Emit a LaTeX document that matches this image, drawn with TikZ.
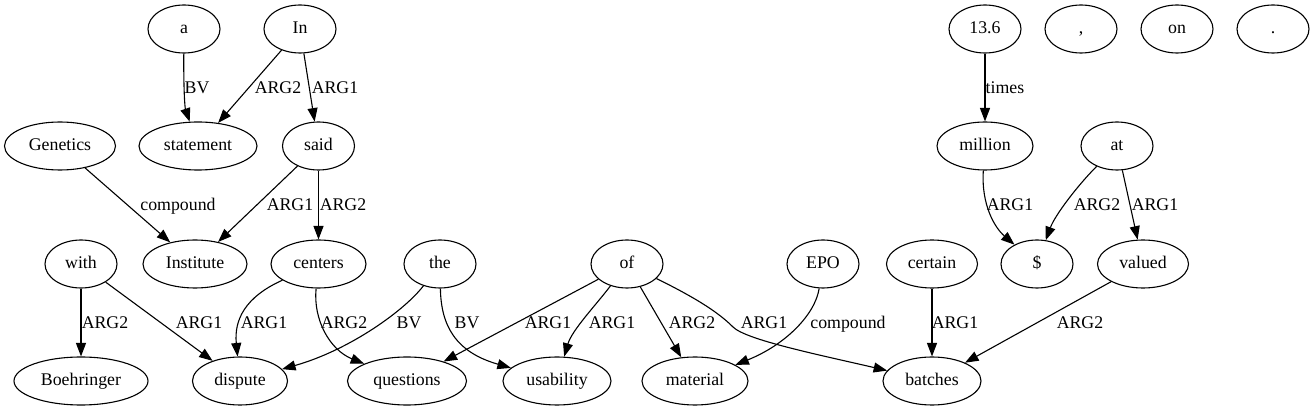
\documentclass[tikz,border=0pt]{standalone}
\usepackage{fontspec}
\setmainfont{Liberation Serif}
\usetikzlibrary{arrows.meta, shapes.geometric}

\begin{document}
\begin{tikzpicture}[
    x=1pt, y=-1pt,
    word/.style={ellipse, draw=black, line width=1.1pt, inner sep=0pt,
                 minimum width=72pt, minimum height=48pt,
                 text height=13pt, text depth=3pt,
                 font=\fontsize{17.8pt}{20pt}\selectfont},
    rel/.style={anchor=base, inner sep=0pt,
                 font=\fontsize{17.8pt}{20pt}\selectfont},
    arrow/.style={-{Triangle[length=13.5pt, width=10pt]}, line width=1.1pt}
]
\useasboundingbox (0,0) rectangle (1315,411);

% top row
\node[word] (a) at (184,29) {a};
\node[word] (In) at (300,29) {In};
\node[word] (num) at (985,29) {13.6};
\node[word] (comma) at (1081,29) {,};
\node[word] (on) at (1177,29) {on};
\node[word] (stop) at (1273,29) {.};

% second row
\node[word, minimum width=111pt] (Genetics) at (60,146) {Genetics};
\node[word, minimum width=118pt] (statement) at (198,146) {statement};
\node[word] (said) at (318.5,146) {said};
\node[word, minimum width=96pt] (million) at (985,146) {million};
\node[word] (at) at (1117,146) {at};

% third row
\node[word] (with) at (81,264) {with};
\node[word, minimum width=104pt] (Institute) at (195,264) {Institute};
\node[word, minimum width=95pt] (centers) at (318.5,264) {centers};
\node[word] (the) at (440,264) {the};
\node[word] (of) at (627,264) {of};
\node[word] (EPO) at (823,264) {EPO};
\node[word, minimum width=91pt] (certain) at (932,264) {certain};
\node[word] (dollar) at (1037,264) {\$};
\node[word, minimum width=91pt] (valued) at (1143,264) {valued};

% bottom row
\node[word, minimum width=134pt] (Boehringer) at (81,381) {Boehringer};
\node[word, minimum width=95pt] (dispute) at (240,381) {dispute};
\node[word, minimum width=119pt] (questions) at (407,381) {questions};
\node[word, minimum width=108pt] (usability) at (557,381) {usability};
\node[word, minimum width=106pt] (material) at (695,381) {material};
\node[word, minimum width=98pt] (batches) at (932,381) {batches};

\draw[arrow] (a) .. controls (183.5,92) and (185,108) .. (statement) node[rel] at (197,94) {BV};
\draw[arrow] (In) -- (statement) node[rel] at (278,94) {ARG2};
\draw[arrow] (In) -- (said) node[rel] at (335,94) {ARG1};
\draw[arrow] (Genetics) -- (Institute) node[rel] at (178,211) {compound};
\draw[arrow] (said) -- (Institute) node[rel] at (290,211) {ARG1};
\draw[arrow] (said) -- (centers) node[rel] at (343,211) {ARG2};
\draw[arrow] (with) -- (Boehringer) node[rel] at (105,329) {ARG2};
\draw[arrow] (with) -- (dispute) node[rel] at (199,329) {ARG1};
\draw[arrow] (centers) .. controls (245,297) and (234,320) .. (dispute) node[rel] at (264,329) {ARG1};
\draw[arrow] (centers) .. controls (313,320) and (330,350) .. (questions) node[rel] at (344,329) {ARG2};
\draw[arrow] (the) .. controls (405,310) and (350,350) .. (dispute) node[rel] at (409,329) {BV};
\draw[arrow] (the) .. controls (441,325) and (455,352) .. (usability) node[rel] at (467,329) {BV};
\draw[arrow] (of) -- (questions) node[rel] at (548,329) {ARG1};
\draw[arrow] (of) .. controls (596,305) and (572,330) .. (usability) node[rel] at (612,329) {ARG1};
\draw[arrow] (of) -- (material) node[rel] at (692,329) {ARG2};
\draw[arrow] (of) .. controls (700,300) and (720,314) .. (733,327)
    .. controls (746,340) and (820,355) .. (batches) node[rel] at (764,329) {ARG1};
\draw[arrow] (EPO) .. controls (815,315) and (785,345) .. (material) node[rel] at (848,329) {compound};
\draw[arrow] (certain) -- (batches) node[rel] at (955,329) {ARG1};
\draw[arrow] (valued) -- (batches) node[rel] at (1080,329) {ARG2};
\draw[arrow] (num) -- (million) node[rel] at (1005,94) {times};
\draw[arrow] (million) .. controls (981,205) and (995,228) .. (dollar) node[rel] at (1010,211) {ARG1};
\draw[arrow] (at) .. controls (1078,185) and (1055,215) .. (dollar) node[rel] at (1097,211) {ARG2};
\draw[arrow] (at) -- (valued) node[rel] at (1155,211) {ARG1};
\end{tikzpicture}
\end{document}
